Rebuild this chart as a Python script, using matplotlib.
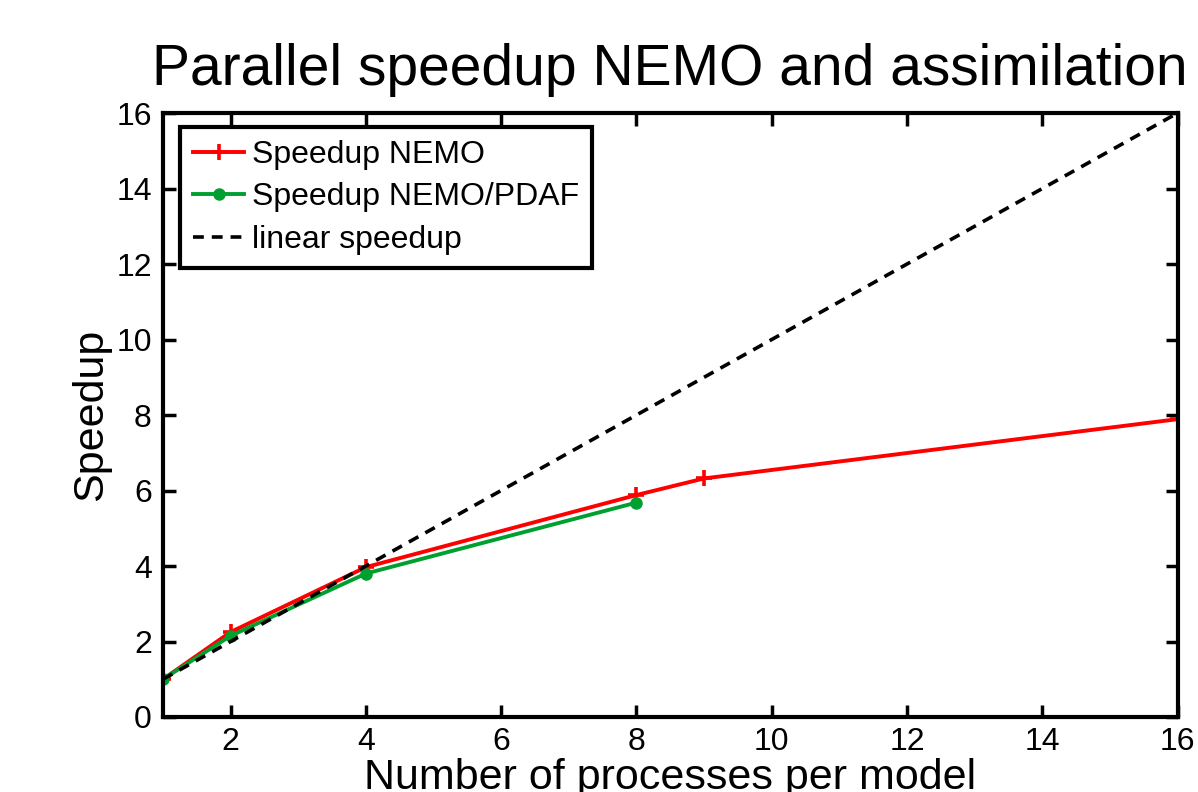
import numpy as np
import matplotlib.pyplot as plt

plt.rcParams['font.family'] = ['Liberation Sans', 'DejaVu Sans']

procs_nemo = [1, 2, 4, 8, 9, 16]
speedup_nemo = [1.0, 2.25, 3.97, 5.88, 6.32, 7.89]

procs_pdaf = [1, 2, 4, 8]
speedup_pdaf = [1.0, 2.15, 3.8, 5.68]

procs_linear = [1, 16]
speedup_linear = [1, 16]

fig = plt.figure(figsize=(11.98, 7.92), dpi=100)
ax = fig.add_axes([0.136, 0.0947, 0.847, 0.7626])

ax.plot(procs_nemo, speedup_nemo, color='#ff0000', lw=2.8, marker='+',
        ms=11, mew=2.6, label='Speedup NEMO')
ax.plot(procs_pdaf, speedup_pdaf, color='#00a030', lw=2.8, marker='o',
        ms=8, label='Speedup NEMO/PDAF')
ax.plot(procs_linear, speedup_linear, color='black', lw=2.6, ls=(0, (3, 2.2)),
        label='linear speedup')

ax.set_xlim(1, 16)
ax.set_ylim(0, 16)
ax.set_xticks(np.arange(2, 17, 2))
ax.set_yticks(np.arange(0, 17, 2))
ax.tick_params(direction='in', length=9, width=2.5, labelsize=23,
               top=True, right=True, pad=7)
ax.tick_params(axis='y', pad=8)
for s in ax.spines.values():
    s.set_linewidth(3)

ax.set_title('Parallel speedup NEMO and assimilation', fontsize=41, pad=20)
ax.set_xlabel('Number of processes per model', fontsize=31, labelpad=1)
ax.set_ylabel('Speedup', fontsize=31, labelpad=4)

leg = ax.legend(loc='upper left', fontsize=23, fancybox=False, framealpha=1,
                edgecolor='black', borderpad=0.4, labelspacing=0.4,
                handlelength=1.6, handletextpad=0.25, borderaxespad=0,
                bbox_to_anchor=(0.017, 0.977))
leg.get_frame().set_linewidth(3)

fig.savefig('out.png', dpi=100)
